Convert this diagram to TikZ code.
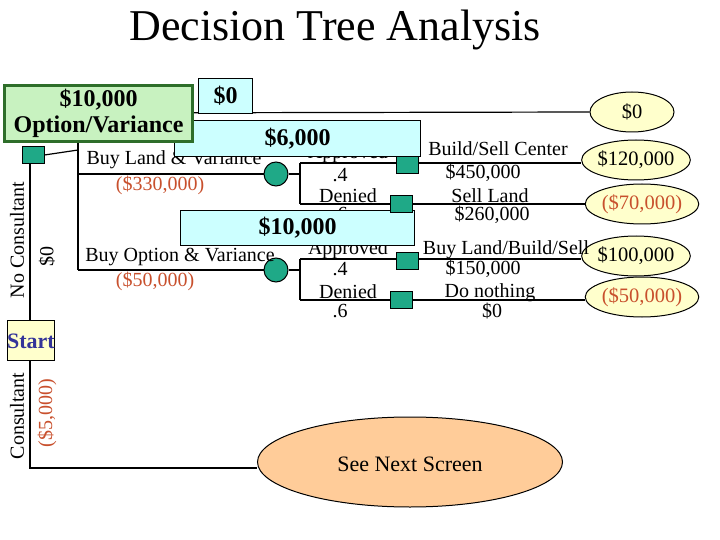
\documentclass[tikz,border=0pt]{standalone}
\usepackage{fontspec}
\setmainfont{Liberation Serif}
\usetikzlibrary{shapes.geometric}
\definecolor{teal1}{HTML}{1FA987}
\definecolor{redt}{HTML}{C8502D}
\definecolor{yel}{HTML}{FFFFCC}
\definecolor{cyanb}{HTML}{CCFFFF}
\definecolor{greenb}{HTML}{C8F2C0}
\definecolor{greend}{HTML}{2E6E2A}
\definecolor{peach}{HTML}{FFCC99}
\definecolor{bluet}{HTML}{333399}
\begin{document}
\begin{tikzpicture}[x=1pt,y=-1pt,
  sq/.style={draw=black,line width=1pt,fill=teal1,minimum width=22pt,minimum height=17pt,inner sep=0pt},
  ch/.style={circle,draw=black,line width=1pt,fill=teal1,minimum size=24pt,inner sep=0pt},
  leaf/.style={ellipse,draw=black,line width=1pt,fill=yel,minimum width=84pt,minimum height=40pt,inner sep=0pt,font=\fontsize{20.5}{20.5}\selectfont},
  lbl/.style={font=\fontsize{20}{20}\selectfont,inner sep=0pt},
  rl/.style={lbl,text=redt},
  cbox/.style={draw=black,line width=1pt,fill=cyanb,font=\bfseries\fontsize{24}{24}\selectfont,inner sep=0pt},
  ln/.style={draw=black,line width=1.2pt}]
\useasboundingbox (0,0) rectangle (720,540);
\node[font=\fontsize{44}{44}\selectfont] (title) at (335,30) {Decision Tree Analysis};
% start and consultant branch
\node[ellipse,draw=black,line width=1pt,fill=peach,minimum width=305pt,minimum height=90pt] (next) at (410,462) {};
\node[font=\fontsize{22}{22}\selectfont] (nextt) at (410,464) {See Next Screen};
\node[sq] (d1) at (33,155) {};
\coordinate (c1) at (30,468);
\coordinate (c0) at (30,164);
\draw[ln] (c0) -- (c1) -- (next.west|-c1);
\node[draw=black,line width=1pt,fill=yel,minimum width=47pt,minimum height=40pt,inner sep=0pt,anchor=north west] (start) at (7,320) {};
\node[font=\bfseries\fontsize{22}{22}\selectfont,text=bluet] (startt) at (31,341) {Start};
\node[lbl,rotate=90] (cons) at (17,416) {Consultant};
\node[rl,rotate=90] (cons5) at (47,413) {(\$5,000)};
% no consultant
\node[sq] (d1b) at (33,155) {};
\node[lbl,rotate=90] (nc) at (17,240) {No Consultant};
\node[lbl,rotate=90] (nc0) at (47,256) {\$0};
\coordinate (t0) at (78,150);
\coordinate (ttop) at (78,113);
\coordinate (tbot) at (78,270);
\draw[ln] (d1.east) -- (t0);
\draw[ln] (ttop) -- (tbot);
\node[leaf] (e0) at (632,112) {\$0};
\draw[ln] (ttop) -- (e0.west);
% buy land
\node[ch] (c2) at (276,174) {};
\node[ch] (c3) at (276,270) {};
\draw[ln] (78,174) -- (c2.west);
\draw[ln] (tbot) -- (c3.west);
\node[lbl] (bl) at (174,160) {Buy Land \& Variance};
\node[rl] (bl2) at (160,185) {(\$330,000)};
\node[lbl] (bo) at (180,257) {Buy Option \& Variance};
\node[rl] (bo2) at (155,281) {(\$50,000)};
% chance branches
\node[sq] (s1) at (407,165) {};
\node[sq] (s2) at (401,204) {};
\node[sq] (s3) at (407,261) {};
\node[sq] (s4) at (401,300) {};
\draw[ln] (c2.east) -- (300,174);
\draw[ln] (300,163) -- (300,204);
\draw[ln] (c3.east) -- (300,270);
\draw[ln] (300,259) -- (300,300);
\draw[ln] (300,163) -- (s1.west|-300,163);
\draw[ln] (300,204) -- (s2.west);
\draw[ln] (300,259) -- (s3.west|-300,259);
\draw[ln] (300,300) -- (s4.west);
\node[lbl] (a1) at (348,154) {Approved};
\node[lbl] (p1) at (340,175) {.4};
\node[lbl] (dd1) at (348,196) {Denied};
\node[lbl] (q1) at (340,214) {.6};
\node[lbl] (a2) at (348,250) {Approved};
\node[lbl] (p2) at (340,269) {.4};
\node[lbl] (dd2) at (348,292) {Denied};
\node[lbl] (q2) at (340,311) {.6};
% leaves
\node[leaf] (e1) at (636,160) {\$120,000};
\node[leaf,text=redt] (e2) at (642,204) {(\$70,000)};
\node[leaf] (e3) at (636,256) {\$100,000};
\node[leaf,text=redt] (e4) at (642,297) {(\$50,000)};
\draw[ln] (s1.east|-300,163) -- (e1.west|-300,163);
\draw[ln] (s2.east) -- (s2.east-|e2.west);
\draw[ln] (s3.east|-300,259) -- (e3.west|-300,259);
\draw[ln] (s4.east) -- (s4.east-|e4.west);
\node[lbl] (l1) at (498,149) {Build/Sell Center};
\node[lbl] (l1b) at (483,173) {\$450,000};
\node[lbl] (l2) at (490,196) {Sell Land};
\node[lbl] (l2b) at (492,215) {\$260,000};
\node[lbl] (l3) at (506,250) {Buy Land/Build/Sell};
\node[lbl] (l3b) at (483,269) {\$150,000};
\node[lbl] (l4) at (490,293) {Do nothing};
\node[lbl] (l4b) at (492,311) {\$0};
% overlay boxes
\node[lbl] (hid) at (185,230) {(};
\node[cbox,minimum width=246pt,minimum height=36pt,anchor=north west] (b6) at (174,120) {\$6,000};
\node[cbox,minimum width=234pt,minimum height=35pt,anchor=north west] (b10) at (180,210) {\$10,000};
\node[sq] at (407,165) {};
\node[sq] at (401,204) {};
\node[cbox,minimum width=54pt,minimum height=35pt,anchor=north west] (b0) at (198,78) {\$0};
\node[draw=greend,line width=3pt,fill=greenb,minimum width=188pt,minimum height=56pt,anchor=north west,align=center,font=\bfseries\fontsize{24}{26}\selectfont,inner sep=0pt] (bo) at (3,84) {\$10,000\\Option/Variance};
\end{tikzpicture}
\end{document}
